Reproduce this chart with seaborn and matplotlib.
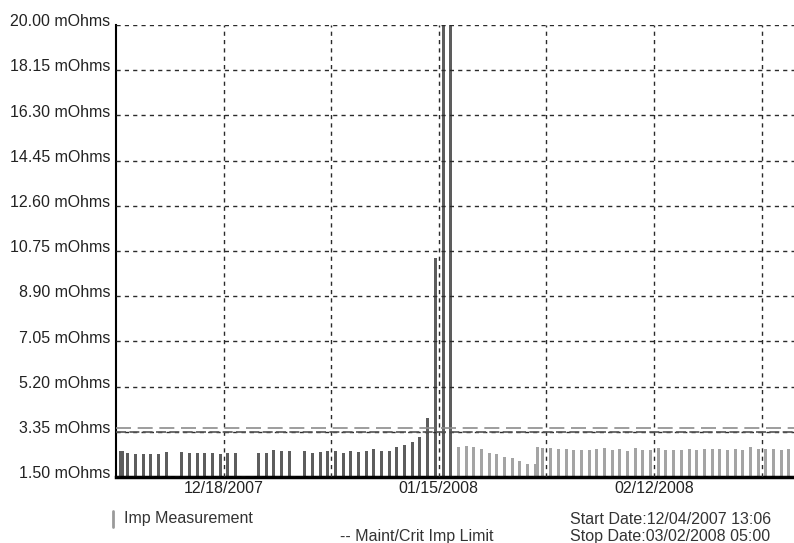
import numpy as np
import pandas as pd
import matplotlib
matplotlib.use("Agg")
import matplotlib.pyplot as plt
import matplotlib.transforms as mtransforms
from matplotlib.lines import Line2D
from matplotlib.ticker import FixedLocator
import seaborn as sns

# Impedance readings: day number counted from 12/04/2007 00:00
# (a day listed twice had a second reading later that day)
reading_day = [
    0, 0, 1, 2, 3, 4, 5, 6, 8, 9, 10, 11, 12, 13, 14, 15, 18, 19, 20, 21, 22,
    24, 25, 26, 27, 28, 29, 30, 31, 32, 33, 34, 35, 36, 37, 38, 39, 40, 41, 42, 43,
    44, 45, 46, 47, 48, 49, 50, 51, 52, 53, 54, 54,
    55, 56, 57, 58, 59, 60, 61, 62, 63, 64, 65, 66, 67, 68, 69, 70, 71,
    72, 73, 74, 75, 76, 77, 78, 79, 80, 81, 82, 83, 84, 85, 86, 87,
]
imp_mohm = [
    2.57, 2.57, 2.50, 2.46, 2.46, 2.46, 2.46, 2.52, 2.52, 2.50, 2.50, 2.50, 2.50, 2.46, 2.50, 2.50,
    2.50, 2.50, 2.61, 2.57, 2.57,
    2.57, 2.47, 2.52, 2.57, 2.57, 2.48, 2.58, 2.54, 2.58, 2.64, 2.58, 2.58, 2.74, 2.80, 2.92,
    3.15, 3.91, 10.48, 20.00, 20.00,
    2.74, 2.78, 2.74, 2.64, 2.50, 2.44, 2.33, 2.26, 2.17, 2.03, 2.03, 2.74,
    2.68, 2.68, 2.66, 2.66, 2.62, 2.62, 2.62, 2.64, 2.68, 2.62, 2.64, 2.56, 2.68, 2.62, 2.62,
    2.68, 2.62, 2.62, 2.62, 2.64, 2.62, 2.64, 2.66, 2.64, 2.62, 2.64, 2.62, 2.74, 2.66, 2.64,
    2.64, 2.62, 2.64,
]
read_hour = 13.1          # usual time of the daily reading
replaced_from_day = 44    # readings from this day on are drawn in the lighter shade

maint_limit = 3.52
crit_limit = 3.35

y_ticks = [1.50, 3.35, 5.20, 7.05, 8.90, 10.75, 12.60, 14.45, 16.30, 18.15, 20.00]
x_tick_days = [14, 42, 70]
x_tick_labels = ["12/18/2007", "01/15/2008", "02/12/2008"]
x_grid_days = [28, 56, 84]
x_span = (0.0, 88.2)

# ---- build the reading table ----
days = np.array(reading_day, dtype=float)
repeat = pd.Series(reading_day).groupby(reading_day).cumcount().to_numpy()
df = pd.DataFrame({
    "t": days + read_hour / 24.0 + 0.3 * repeat,
    "imp": imp_mohm,
    "phase": np.where(days < replaced_from_day, "old", "new"),
})

sns.set_style("white")
plt.rcParams["font.family"] = ["Liberation Sans", "DejaVu Sans"]

fig = plt.figure(figsize=(7.94, 5.43), dpi=100)
ax = fig.add_axes([116 / 794, 1 - 477 / 543, 1 - 116 / 794, (477 - 25) / 543])

sns.barplot(
    data=df, x="t", y="imp", hue="phase",
    palette={"old": "#5d5d5d", "new": "#a4a4a4"},
    native_scale=True, dodge=False, width=1.3, errorbar=None,
    legend=False, linewidth=0, saturation=1, ax=ax,
)

# maintenance / critical limits
ax.axhline(maint_limit, color="#8c8c8c", linestyle=(0, (9, 4)), linewidth=1.2, zorder=3)
ax.axhline(crit_limit, color="#555555", linestyle=(0, (6, 2)), linewidth=1.2, zorder=3)

ax.set_xlim(*x_span)
ax.set_ylim(y_ticks[0], y_ticks[-1])

ax.set_yticks(y_ticks)
ax.set_yticklabels([f"{v:.2f} mOhms" for v in y_ticks])
ax.set_xticks(x_tick_days)
ax.set_xticklabels(x_tick_labels)
ax.xaxis.set_minor_locator(FixedLocator(x_grid_days))
ax.set_xlabel("")
ax.set_ylabel("")

ax.tick_params(axis="both", which="both", length=0, labelsize=11.5, colors="#222222")
ax.tick_params(axis="y", pad=4)
ax.tick_params(axis="x", pad=3)

ax.set_axisbelow(False)
ax.grid(True, which="both", axis="both", color="#2b2b2b",
        linestyle=(0, (3, 3)), linewidth=1.0)

# y labels sit a little above their grid lines
offset = mtransforms.ScaledTranslation(0, 3.5 / 72, fig.dpi_scale_trans)
for lab in ax.get_yticklabels():
    lab.set_transform(lab.get_transform() + offset)

for side in ("top", "right"):
    ax.spines[side].set_visible(False)
ax.spines["left"].set_color("black")
ax.spines["left"].set_linewidth(1.5)
ax.spines["bottom"].set_color("black")
ax.spines["bottom"].set_linewidth(2.5)

# legend and date range under the chart
W, H = 794, 543
fig.add_artist(Line2D([113 / W, 113 / W], [1 - 511 / H, 1 - 527 / H],
                      color="#9a9a9a", linewidth=2))
txt = dict(fontsize=11.5, color="#333333", va="center", ha="left")
fig.text(124 / W, 1 - 519 / H, "Imp Measurement", **txt)
fig.text(340 / W, 1 - 537 / H, "-- Maint/Crit Imp Limit", **txt)
fig.text(570 / W, 1 - 519 / H, "Start Date:12/04/2007 13:06", **txt)
fig.text(570 / W, 1 - 537 / H, "Stop Date:03/02/2008 05:00", **txt)

fig.savefig("out.png", dpi=100, facecolor="white")
